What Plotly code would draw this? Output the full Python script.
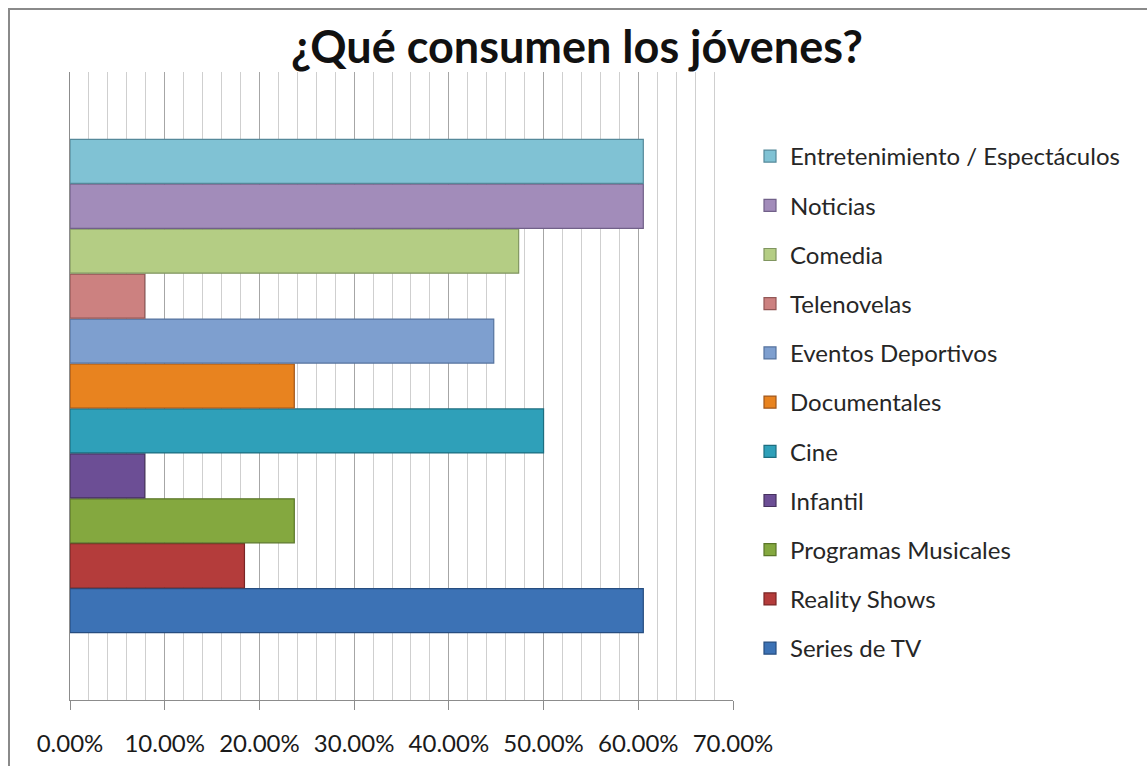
import plotly.graph_objects as go

# Share of young people consuming each type of content (n = 38)
categories = [
    "Series de TV",
    "Reality Shows",
    "Programas Musicales",
    "Infantil",
    "Cine",
    "Documentales",
    "Eventos Deportivos",
    "Telenovelas",
    "Comedia",
    "Noticias",
    "Entretenimiento / Espectáculos",
]
shares = [0.6053, 0.1842, 0.2368, 0.0789, 0.5000, 0.2368, 0.4474, 0.0789, 0.4737, 0.6053, 0.6053]

fill_colors = [
    "#3C72B5", "#B43C3B", "#84A83F", "#6C4E95", "#2FA0B9", "#E8831F",
    "#7E9FCF", "#CC8180", "#B4CD84", "#A28CBA", "#80C2D4",
]
edge_colors = [
    "#264D80", "#7A2525", "#5A7628", "#47325F", "#1D6E80", "#A0561A",
    "#55739E", "#935756", "#809560", "#716089", "#55899A",
]

tick_values = [0.0, 0.1, 0.2, 0.3, 0.4, 0.5, 0.6, 0.7]

W, H = 1147, 766
ML, MR, MT, MB = 70, 414, 72, 66

fig = go.Figure()
n = len(categories)
for i, (name, val, fc, ec) in enumerate(zip(categories, shares, fill_colors, edge_colors)):
    fig.add_trace(go.Bar(
        y=[""],
        x=[val],
        name=name,
        orientation="h",
        legendgroup=name,
        legendrank=n - i,
        marker=dict(color=fc, line=dict(color=ec, width=1.2)),
    ))

# outer chart frame, expressed in pixels and converted to plot-area paper units
pw, ph = W - ML - MR, H - MT - MB
def px_x(p):
    return (p - ML) / pw
def px_y(p):
    return (H - MB - p) / ph

fig.add_shape(
    type="rect", xref="paper", yref="paper",
    x0=px_x(9), x1=px_x(W + 20), y0=px_y(H + 20), y1=px_y(9),
    line=dict(color="#8a8a8a", width=2), fillcolor="rgba(0,0,0,0)", layer="above",
)

fig.update_layout(
    width=W, height=H,
    margin=dict(l=ML, r=MR, t=MT, b=MB, autoexpand=False),
    paper_bgcolor="white",
    plot_bgcolor="white",
    barmode="group",
    bargap=0.213,
    bargroupgap=0.02,
    font=dict(family="Lato", color="#1a1a1a"),
    title=dict(
        text="<b>¿Qué consumen los jóvenes?</b>",
        x=0.503, xanchor="center",
        y=1 - 47 / H, yanchor="middle",
        font=dict(family="Lato", size=45, color="#111111"),
    ),
    showlegend=True,
    legend=dict(
        x=px_x(750), xanchor="left",
        y=px_y(134), yanchor="top",
        traceorder="grouped",
        tracegroupgap=15,
        font=dict(family="Lato", size=24, color="#262626"),
        bgcolor="rgba(0,0,0,0)",
        itemclick=False,
    ),
    xaxis=dict(
        range=[0, 0.7],
        tickvals=tick_values,
        tickformat=".2%",
        showgrid=True,
        gridcolor="#a6a6a6",
        gridwidth=1,
        minor=dict(dtick=0.02, showgrid=True, gridcolor="#cfcfcf", gridwidth=1),
        ticks="outside",
        ticklen=9,
        tickcolor="#8c8c8c",
        showline=True,
        linecolor="#8c8c8c",
        linewidth=1,
        zeroline=False,
        automargin=False,
        ticklabelstandoff=13,
        tickfont=dict(family="Lato", size=24, color="#1a1a1a"),
        fixedrange=True,
    ),
    yaxis=dict(
        showticklabels=False,
        showgrid=False,
        showline=True,
        linecolor="#8c8c8c",
        linewidth=1,
        ticks="",
        automargin=False,
        fixedrange=True,
    ),
)

fig.write_html("out.html")
